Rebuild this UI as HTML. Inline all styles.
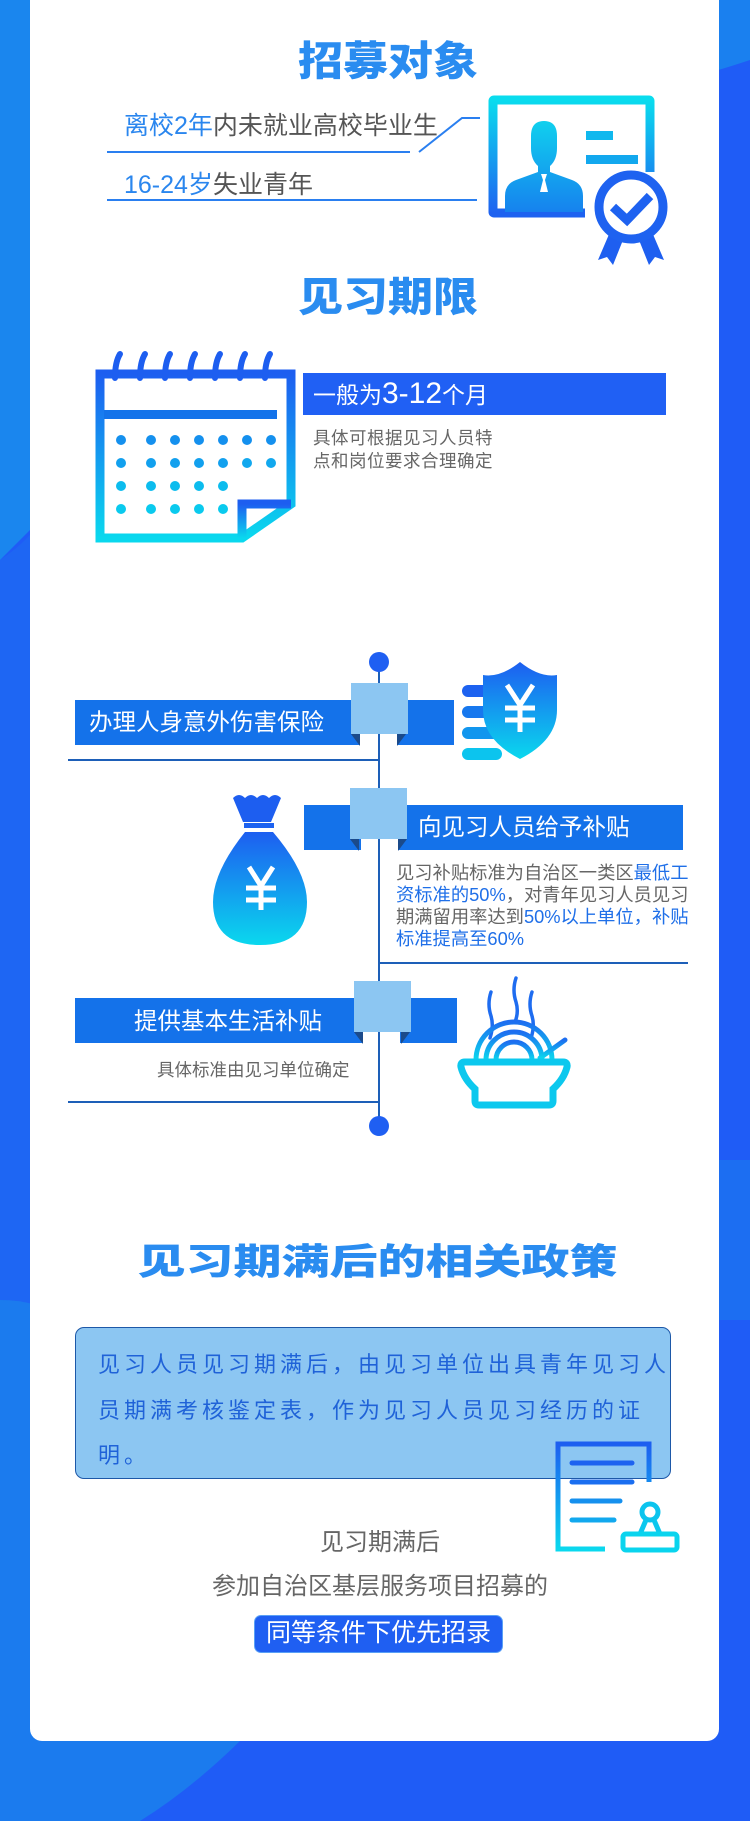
<!DOCTYPE html>
<html><head><meta charset="utf-8"><style>
*{margin:0;padding:0;box-sizing:border-box}
body{width:750px;height:1821px;overflow:hidden;position:relative;font-family:"Liberation Sans","Noto Sans CJK SC",sans-serif;background:#1f5cf6}
.abs{position:absolute}
.card{left:30px;top:-20px;width:689px;height:1761px;background:#fff;border-radius:12px}
.title{color:#2a8cf0;font-weight:900;text-align:center;white-space:nowrap;font-family:"Noto Sans CJK SC",sans-serif}
.gray{color:#666}
.blue{color:#1f6fe8}
.bar{background:#1472ea}
.sq{background:#8cc6f2}
.w{color:#fff;white-space:nowrap}
</style></head><body>
<svg class="abs" style="left:0;top:0" width="750" height="1821">
<rect width="750" height="1821" fill="#1f5cf6"/>
<path d="M0 0 H40 V520 Q20 540 0 560Z" fill="#1a86ee"/>
<path d="M0 560 Q30 540 40 520 V1741 H0Z" fill="#1e66f3"/>
<path d="M0 1300 Q180 1300 240 1741 Q190 1790 140 1821 H0Z" fill="#1b7bee"/>
<path d="M700 0 H750 V60 Q720 70 700 75Z" fill="#1a80ef"/>
<path d="M700 1160 Q730 1160 750 1160 V1320 H700Z" fill="#1c6ef2"/>
</svg>
<div class="abs card"></div>

<!-- Section 1 -->
<div class="abs title" style="left:0;width:750px;top:30px;font-size:45px;line-height:56px;padding-left:26px;transform:scaleY(.9)">招募对象</div>
<div class="abs" style="left:124px;top:106px;font-size:25px;white-space:nowrap;color:#555"><span style="color:#2a86ee">离校2年</span>内未就业高校毕业生</div>
<div class="abs" style="left:124px;top:165px;font-size:25px;white-space:nowrap;color:#555"><span style="color:#2a86ee">16-24岁</span>失业青年</div>
<svg class="abs" style="left:0;top:0" width="750" height="300">
<defs><linearGradient id="g1" x1="0" y1="0" x2="0" y2="1"><stop offset="0" stop-color="#0adcee"/><stop offset="1" stop-color="#1e62f0"/></linearGradient>
<linearGradient id="g2" x1="0" y1="0" x2="0" y2="1"><stop offset="0" stop-color="#10d0ee"/><stop offset="1" stop-color="#1682ee"/></linearGradient></defs>
<line x1="107" y1="152" x2="410" y2="152" stroke="#2a7ff0" stroke-width="2"/>
<polyline points="419,152 462,118 480,118" fill="none" stroke="#2a7ff0" stroke-width="2"/>
<line x1="107" y1="200" x2="477" y2="200" stroke="#2a7ff0" stroke-width="2"/>
<path d="M650 172 V101 Q650 100 649 100 H494 Q493 100 493 101 V212 Q493 213 494 213 H585" fill="none" stroke="url(#g1)" stroke-width="9"/>
<path d="M544 121 q-13 0 -13 15 v12 q0 12 7 18 v6 l-22 8 q-11 4 -11 16 v16 h78 v-16 q0 -12 -11 -16 l-22 -8 v-6 q7 -6 7 -18 v-12 q0 -15 -13 -15z" fill="url(#g2)"/>
<path d="M541 174 h6 l-2 6 l3 12 h-8 l3 -12z" fill="#fff"/>
<rect x="586" y="131" width="27" height="9" fill="#10b8ee"/>
<rect x="586" y="155" width="52" height="9" fill="#12a8ee"/>
<path d="M610 232 l-12 28 l9 -3 l6 8 l10 -25z M652 232 l12 28 l-9 -3 l-6 8 l-10 -25z" fill="#1e5ff0"/>
<circle cx="631" cy="207" r="32" fill="#fff" stroke="#1e62f0" stroke-width="9"/>
<polyline points="613,207 627,220 650,196" fill="none" stroke="#1e62f0" stroke-width="9"/>
</svg>

<!-- Section 2 -->
<div class="abs title" style="left:0;width:750px;top:266px;font-size:45px;line-height:56px;padding-left:26px;transform:scaleY(.9)">见习期限</div>
<svg class="abs" style="left:0;top:340px" width="320" height="210">
<defs><linearGradient id="g3" x1="0" y1="0" x2="0" y2="1"><stop offset="0" stop-color="#1d5ef0"/><stop offset="1" stop-color="#0ad8ee"/></linearGradient></defs>
<path d="M100 34 H291 V164 L242 198 H100Z" fill="none" stroke="url(#g3)" stroke-width="9"/>
<path d="M291 164 L242 164 L242 198" fill="none" stroke="url(#g3)" stroke-width="9"/>
<rect x="104" y="70" width="173" height="9" fill="#1473ea"/>
<g stroke="#1d5ef0" stroke-width="6" stroke-linecap="round" fill="none">
<path d="M120 14 q-5 8 -5 24"/><path d="M145 14 q-5 8 -5 24"/><path d="M170 14 q-5 8 -5 24"/><path d="M195 14 q-5 8 -5 24"/><path d="M220 14 q-5 8 -5 24"/><path d="M245 14 q-5 8 -5 24"/><path d="M270 14 q-5 8 -5 24"/>
</g>
<g fill="#1490ee">
<circle cx="121" cy="100" r="5"/><circle cx="151" cy="100" r="5"/><circle cx="175" cy="100" r="5"/><circle cx="199" cy="100" r="5"/><circle cx="223" cy="100" r="5"/><circle cx="247" cy="100" r="5"/><circle cx="271" cy="100" r="5"/>
<circle cx="121" cy="123" r="5" fill="#12a0ee"/><circle cx="151" cy="123" r="5" fill="#12a0ee"/><circle cx="175" cy="123" r="5" fill="#12a0ee"/><circle cx="199" cy="123" r="5" fill="#12a0ee"/><circle cx="223" cy="123" r="5" fill="#12a0ee"/><circle cx="247" cy="123" r="5" fill="#12a8ee"/><circle cx="271" cy="123" r="5" fill="#12a8ee"/>
<circle cx="121" cy="146" r="5" fill="#0cbcee"/><circle cx="151" cy="146" r="5" fill="#0cbcee"/><circle cx="175" cy="146" r="5" fill="#0cbcee"/><circle cx="199" cy="146" r="5" fill="#0cbcee"/><circle cx="223" cy="146" r="5" fill="#0cbcee"/>
<circle cx="121" cy="169" r="5" fill="#0acaee"/><circle cx="151" cy="169" r="5" fill="#0acaee"/><circle cx="175" cy="169" r="5" fill="#0acaee"/><circle cx="199" cy="169" r="5" fill="#0acaee"/><circle cx="223" cy="169" r="5" fill="#0acaee"/>
</g>
</svg>
<div class="abs w" style="left:303px;top:373px;width:363px;height:42px;background:#2060f4;padding-left:10px;font-size:23px;line-height:42px">一般为<span style="font-size:30px">3-12</span>个月</div>
<div class="abs gray" style="left:313px;top:427px;font-size:17.5px;line-height:23px;letter-spacing:.5px">具体可根据见习人员特<br>点和岗位要求合理确定</div>

<!-- Timeline -->
<div class="abs" style="left:378px;top:662px;width:2px;height:464px;background:#1d5fb8"></div>
<div class="abs" style="left:369px;top:652px;width:20px;height:20px;border-radius:50%;background:#1f5ff2"></div>
<div class="abs" style="left:369px;top:1116px;width:20px;height:20px;border-radius:50%;background:#1f5ff2"></div>

<!-- item1 -->
<div class="abs bar" style="left:75px;top:700px;width:285px;height:45px"></div>
<div class="abs bar" style="left:397px;top:700px;width:57px;height:45px"></div>
<div class="abs" style="left:351px;top:734px;border-top:12px solid #1b4a8a;border-left:9px solid transparent"></div>
<div class="abs" style="left:397px;top:734px;border-top:12px solid #1b4a8a;border-right:9px solid transparent"></div>
<div class="abs sq" style="left:351px;top:683px;width:57px;height:51px"></div>
<div class="abs w" style="left:89px;top:707px;font-size:23.5px;line-height:30px">办理人身意外伤害保险</div>
<div class="abs" style="left:68px;top:759px;width:311px;height:2px;background:#1d5fb8"></div>

<!-- item2 -->
<div class="abs bar" style="left:304px;top:805px;width:57px;height:45px"></div>
<div class="abs bar" style="left:398px;top:805px;width:285px;height:45px"></div>
<div class="abs" style="left:350px;top:839px;border-top:12px solid #1b4a8a;border-left:9px solid transparent"></div>
<div class="abs" style="left:398px;top:839px;border-top:12px solid #1b4a8a;border-right:9px solid transparent"></div>
<div class="abs sq" style="left:350px;top:788px;width:57px;height:51px"></div>
<div class="abs w" style="left:418px;top:812px;font-size:23.5px;line-height:30px">向见习人员给予补贴</div>
<div class="abs gray" style="left:396px;top:862px;font-size:18.3px;line-height:22px;width:300px;white-space:nowrap">见习补贴标准为自治区一类区<span class="blue">最低工</span><br><span class="blue">资标准的50%</span>，对青年见习人员见习<br>期满留用率达到<span class="blue">50%以上单位，补贴</span><br><span class="blue">标准提高至60%</span></div>
<div class="abs" style="left:379px;top:962px;width:309px;height:2px;background:#1d5fb8"></div>

<!-- item3 -->
<div class="abs bar" style="left:75px;top:998px;width:288px;height:45px"></div>
<div class="abs bar" style="left:400px;top:998px;width:57px;height:45px"></div>
<div class="abs" style="left:354px;top:1032px;border-top:12px solid #1b4a8a;border-left:9px solid transparent"></div>
<div class="abs" style="left:401px;top:1032px;border-top:12px solid #1b4a8a;border-right:9px solid transparent"></div>
<div class="abs sq" style="left:354px;top:981px;width:57px;height:51px"></div>
<div class="abs w" style="left:134px;top:1006px;font-size:23.5px;line-height:30px">提供基本生活补贴</div>
<div class="abs gray" style="left:157px;top:1057px;font-size:17.5px;white-space:nowrap">具体标准由见习单位确定</div>
<div class="abs" style="left:68px;top:1101px;width:311px;height:2px;background:#1d5fb8"></div>

<svg class="abs" style="left:0;top:640px" width="750" height="500">
<defs><linearGradient id="g4" x1="0" y1="0" x2="0" y2="1"><stop offset="0" stop-color="#1d5ef0"/><stop offset="1" stop-color="#0ad8ee"/></linearGradient>
<linearGradient id="g6" x1="0" y1="0" x2="0" y2="1"><stop offset="0" stop-color="#1d6ef0"/><stop offset="1" stop-color="#0ad8ee"/></linearGradient></defs>
<!-- shield -->
<rect x="462" y="45" width="40" height="12" rx="6" fill="#1d62f0"/>
<rect x="462" y="66" width="40" height="12" rx="6" fill="#1778ee"/>
<rect x="462" y="87" width="40" height="12" rx="6" fill="#1296ee"/>
<rect x="462" y="108" width="40" height="12" rx="6" fill="#0cc4ee"/>
<path d="M520 22 Q540 38 557 35 V70 Q557 100 520 119 Q483 100 483 70 V35 Q500 38 520 22Z" fill="url(#g4)"/>
<g stroke="#fff" stroke-width="5" fill="none"><polyline points="507,45 520,65 533,45"/><line x1="520" y1="65" x2="520" y2="92"/><line x1="505" y1="68" x2="535" y2="68"/><line x1="505" y1="80" x2="535" y2="80"/></g>
<!-- bag -->
<path d="M233 158 q6 -6 12 0 q6 -6 12 0 q6 -6 12 0 q6 -6 12 0 l-10 24 h-28z" fill="#1d5ef0"/>
<rect x="244" y="183" width="30" height="5" fill="#1d62f0"/>
<path d="M245 192 h28 q34 40 34 70 q0 43 -47 43 q-47 0 -47 -43 q0 -30 32 -70z" fill="url(#g4)"/>
<g stroke="#fff" stroke-width="5" fill="none"><polyline points="249,227 261,246 273,227"/><line x1="261" y1="246" x2="261" y2="270"/><line x1="246" y1="248" x2="276" y2="248"/><line x1="246" y1="260" x2="276" y2="260"/></g>
<!-- bowl -->
<g stroke="#1e6cf0" stroke-width="3.5" fill="none" stroke-linecap="round">
<path d="M491 352 q-4 12 0 24 q3 10 -1 22"/><path d="M516 338 q-4 12 0 24 q3 10 -1 20"/><path d="M532 352 q-4 12 0 24 q3 10 -1 22"/>
</g>
<g stroke="url(#g6)" stroke-width="5" fill="none">
<path d="M476 420 a38 38 0 0 1 76 0"/><path d="M486 420 a28 28 0 0 1 56 0"/><path d="M496 420 a18 18 0 0 1 36 0"/>
<line x1="540" y1="418" x2="565" y2="400" stroke-linecap="round"/>
</g>
<path d="M465 422 h98 q5 0 4 5 q-3 12 -14 22 v12 q0 4 -4 4 h-70 q-4 0 -4 -4 v-12 q-11 -10 -14 -22 q-1 -5 4 -5z" fill="none" stroke="#0cc8ee" stroke-width="7"/>
</svg>

<!-- Section 4 -->
<div class="abs title" style="left:0;width:750px;top:1228px;font-size:48px;line-height:60px;padding-left:5px;transform:scaleY(.75)">见习期满后的相关政策</div>
<div class="abs" style="left:75px;top:1327px;width:596px;height:152px;background:#8cc6f2;border:1.5px solid #1d58a8;border-radius:9px"></div>
<div class="abs" style="left:98px;top:1342px;font-size:22px;line-height:45.5px;color:#1f62d8;letter-spacing:4px;white-space:nowrap">见习人员见习期满后，由见习单位出具青年见习人<br>员期满考核鉴定表，作为见习人员见习经历的证<br>明。</div>
<svg class="abs" style="left:550px;top:1438px" width="130" height="120">
<defs><linearGradient id="g5" x1="0" y1="0" x2="0" y2="1"><stop offset="0" stop-color="#1d5ef0"/><stop offset="1" stop-color="#0ad8ee"/></linearGradient></defs>
<path d="M99 44 V6 H8 V111 H55" fill="none" stroke="url(#g5)" stroke-width="5"/>
<g stroke-width="5" stroke-linecap="round"><line x1="22" y1="25" x2="82" y2="25" stroke="#1d62f0"/><line x1="22" y1="44" x2="82" y2="44" stroke="#1a6ef0"/><line x1="22" y1="63" x2="70" y2="63" stroke="#1590ee"/><line x1="22" y1="82" x2="64" y2="82" stroke="#12a8ee"/></g>
<circle cx="100" cy="74" r="8" fill="none" stroke="#0cc4ee" stroke-width="5"/>
<path d="M96 82 L90 96 H110 L104 82" fill="none" stroke="#0cc8ee" stroke-width="5"/>
<rect x="73" y="96" width="54" height="16" rx="3" fill="none" stroke="#0ad4ee" stroke-width="5"/>
</svg>
<div class="abs gray" style="left:0;width:760px;text-align:center;top:1528px;font-size:24px;line-height:30px">见习期满后</div>
<div class="abs gray" style="left:0;width:760px;text-align:center;top:1572px;font-size:24px;line-height:30px">参加自治区基层服务项目招募的</div>
<div class="abs w" style="left:254px;top:1615px;width:249px;height:38px;background:#1f5ff2;border:1.5px solid #5aa0f6;border-radius:7px;text-align:center;font-size:25px;line-height:35px">同等条件下优先招录</div>
</body></html>
